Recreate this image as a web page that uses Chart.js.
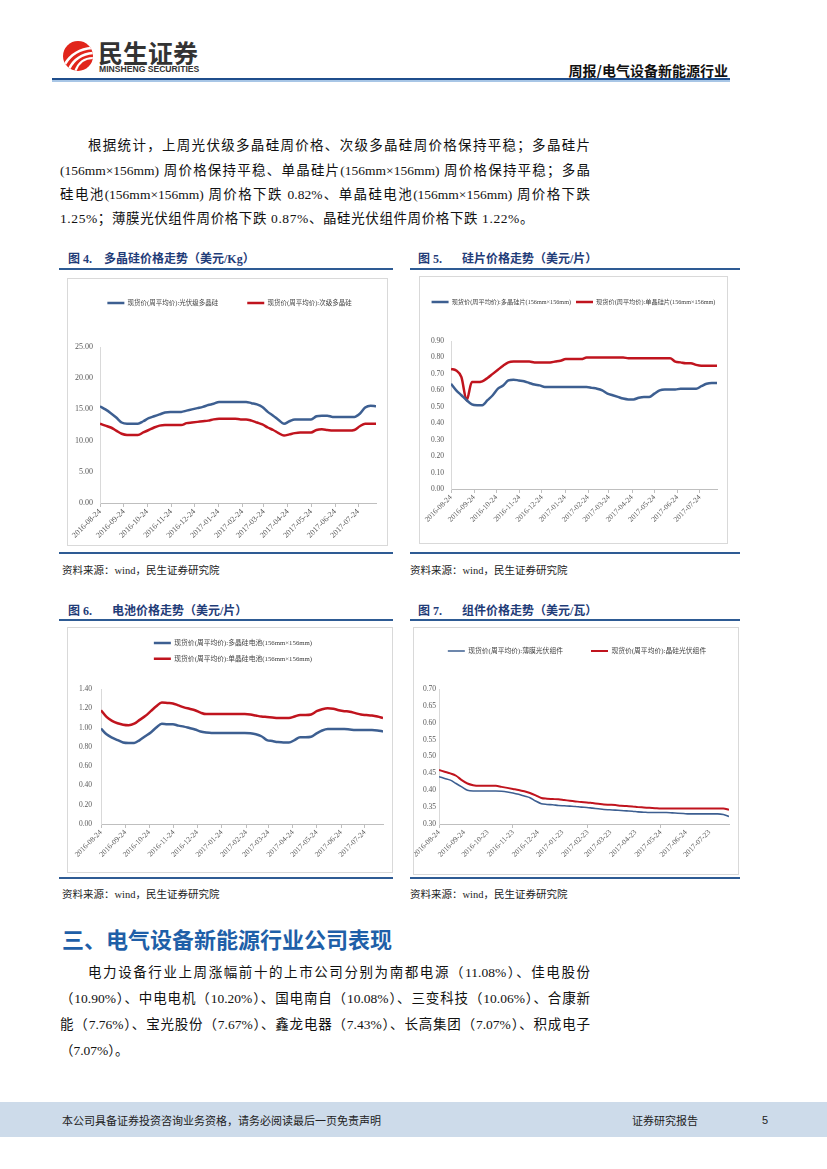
<!DOCTYPE html>
<html><head><meta charset="utf-8">
<script src="https://cdn.jsdelivr.net/npm/chart.js@4.4.1/dist/chart.umd.min.js"></script>
<style>
html,body{margin:0;padding:0;background:#fff;}
#page{position:relative;width:827px;height:1169px;overflow:hidden;font-family:'Liberation Serif','Noto Sans CJK SC',serif;color:#111;}
.a{position:absolute;white-space:nowrap;}
.p{font-size:13.5px;line-height:20px;height:20px;}
.j{text-align:justify;text-align-last:justify;text-justify:inter-character;}
.ft{font-family:'Liberation Serif','Noto Sans CJK SC',serif;font-weight:bold;font-size:12px;line-height:14px;color:#1f3c78;}
.rule{position:absolute;height:2px;background:#2e5b94;}
.box{position:absolute;border:1px solid #d9d9d9;box-sizing:border-box;}
.src{font-size:10.5px;line-height:14px;color:#222;}
canvas{position:absolute;}
</style></head>
<body><div id="page">
<svg class="a" style="left:60px;top:38px" width="36" height="36" viewBox="0 0 36 36">
<defs><clipPath id="cc"><circle cx="18" cy="18" r="15"/></clipPath></defs>
<circle cx="18" cy="18" r="15" fill="#e1251b"/>
<g clip-path="url(#cc)" fill="none" stroke="#fff">
<path d="M5 26 C11 16,19 11,32 10" stroke-width="2.6"/>
<path d="M9 31 C14 21,21 16,33 15" stroke-width="2.6"/>
<path d="M15 34 C18 25,24 20,33 20" stroke-width="2.2"/>
</g></svg>
<div class="a" style="left:98px;top:39px;font-family:'Noto Sans CJK SC';font-weight:bold;font-size:25px;line-height:26px;color:#333;">民生证券</div>
<div class="a" style="left:99px;top:65px;font-family:'Liberation Sans';font-weight:bold;font-size:8.6px;line-height:9px;color:#333;">MINSHENG SECURITIES</div>
<div class="a" style="right:99px;top:62px;font-family:'Noto Sans CJK SC';font-weight:bold;font-size:14px;line-height:16px;color:#111;">周报/电气设备新能源行业</div>
<div class="a" style="left:52px;top:78px;width:678px;height:2px;background:#1f4e8c;"></div>
<div class="a" style="left:52px;top:80px;width:678px;height:1.5px;background:#a8c6e6;"></div>

<div class="a p j" style="left:88px;top:136px;width:502px;">根据统计，上周光伏级多晶硅周价格、次级多晶硅周价格保持平稳；多晶硅片</div>
<div class="a p j" style="left:60px;top:161px;width:530px;">(156mm×156mm) 周价格保持平稳、单晶硅片(156mm×156mm) 周价格保持平稳；多晶</div>
<div class="a p j" style="left:60px;top:185px;width:530px;">硅电池(156mm×156mm) 周价格下跌 0.82%、单晶硅电池(156mm×156mm) 周价格下跌</div>
<div class="a p" style="left:60px;top:209px;letter-spacing:0.6px;">1.25%；薄膜光伏组件周价格下跌 0.87%、晶硅光伏组件周价格下跌 1.22%。</div>

<div class="a ft" style="left:68px;top:252px;">图 4.</div>
<div class="a ft" style="left:104px;top:252px;">多晶硅价格走势（美元/Kg）</div>
<div class="a ft" style="left:418px;top:252px;">图 5.</div>
<div class="a ft" style="left:462px;top:252px;">硅片价格走势（美元/片）</div>
<div class="rule" style="left:59px;top:268px;width:334px;"></div>
<div class="rule" style="left:410px;top:268px;width:330px;"></div>

<div class="box" style="left:67px;top:278px;width:321px;height:268px;"></div>
<div class="box" style="left:419px;top:276px;width:309px;height:268px;"></div>
<canvas id="c4" width="319" height="266" style="left:68px;top:279px;"></canvas>
<canvas id="c5" width="307" height="266" style="left:420px;top:277px;"></canvas>
<div class="rule" style="left:59px;top:552px;width:334px;"></div>
<div class="rule" style="left:410px;top:552px;width:330px;"></div>
<div class="a src" style="left:62px;top:564px;">资料来源：wind，民生证券研究院</div>
<div class="a src" style="left:410px;top:564px;">资料来源：wind，民生证券研究院</div>

<div class="a ft" style="left:68px;top:604px;">图 6.</div>
<div class="a ft" style="left:112px;top:604px;">电池价格走势（美元/片）</div>
<div class="a ft" style="left:418px;top:604px;">图 7.</div>
<div class="a ft" style="left:462px;top:604px;">组件价格走势（美元/瓦）</div>
<div class="rule" style="left:59px;top:619px;width:334px;"></div>
<div class="rule" style="left:410px;top:619px;width:330px;"></div>

<div class="box" style="left:67px;top:627px;width:326px;height:246px;"></div>
<div class="box" style="left:413px;top:627px;width:326px;height:248px;"></div>
<canvas id="c6" width="324" height="244" style="left:68px;top:628px;"></canvas>
<canvas id="c7" width="324" height="246" style="left:414px;top:628px;"></canvas>
<div class="rule" style="left:59px;top:877px;width:334px;"></div>
<div class="rule" style="left:410px;top:877px;width:330px;"></div>
<div class="a src" style="left:62px;top:888px;">资料来源：wind，民生证券研究院</div>
<div class="a src" style="left:410px;top:888px;">资料来源：wind，民生证券研究院</div>

<div class="a" style="left:62px;top:924px;font-family:'Noto Sans CJK SC';font-weight:bold;font-size:22px;line-height:28px;color:#1f5fa8;">三、电气设备新能源行业公司表现</div>

<div class="a p j" style="left:88px;top:963px;width:502px;">电力设备行业上周涨幅前十的上市公司分别为南都电源（11.08%）、佳电股份</div>
<div class="a p j" style="left:60px;top:989px;width:530px;">（10.90%）、中电电机（10.20%）、国电南自（10.08%）、三变科技（10.06%）、合康新</div>
<div class="a p j" style="left:60px;top:1015px;width:530px;">能（7.76%）、宝光股份（7.67%）、鑫龙电器（7.43%）、长高集团（7.07%）、积成电子</div>
<div class="a p" style="left:60px;top:1041px;">（7.07%）。</div>

<div class="a" style="left:0;top:1102px;width:827px;height:35px;background:#cddbea;"></div>
<div class="a" style="left:62px;top:1112px;font-family:'Noto Sans CJK SC';font-size:11px;line-height:16px;color:#222;">本公司具备证券投资咨询业务资格，请务必阅读最后一页免责声明</div>
<div class="a" style="left:632px;top:1112px;font-family:'Noto Sans CJK SC';font-size:11px;line-height:16px;color:#222;">证券研究报告</div>
<div class="a" style="left:762px;top:1112px;font-family:'Liberation Sans';font-size:11px;line-height:16px;color:#222;">5</div>
</div>
<script>
// ---- data ----
const weekDates = ['2016-08-24','2016-08-31','2016-09-07','2016-09-14','2016-09-21','2016-09-28','2016-10-05','2016-10-12','2016-10-19','2016-10-26',
'2016-11-02','2016-11-09','2016-11-16','2016-11-23','2016-11-30','2016-12-07','2016-12-14','2016-12-21','2016-12-28','2017-01-04',
'2017-01-11','2017-01-18','2017-01-25','2017-02-01','2017-02-08','2017-02-15','2017-02-22','2017-03-01','2017-03-08','2017-03-15',
'2017-03-22','2017-03-29','2017-04-05','2017-04-12','2017-04-19','2017-04-26','2017-05-03','2017-05-10','2017-05-17','2017-05-24',
'2017-05-31','2017-06-07','2017-06-14','2017-06-21','2017-06-28','2017-07-05','2017-07-12','2017-07-19','2017-07-26','2017-08-02',
'2017-08-09','2017-08-16'];
const tickLabelsA = ['2016-08-24','2016-09-24','2016-10-24','2016-11-24','2016-12-24','2017-01-24','2017-02-24','2017-03-24','2017-04-24','2017-05-24','2017-06-24','2017-07-24'];
const tickLabelsB = ['2016-08-24','2016-09-24','2016-10-23','2016-11-23','2016-12-24','2017-01-23','2017-02-23','2017-03-23','2017-04-23','2017-05-24','2017-06-24','2017-07-23'];

const polyLabels = ['现货价(周平均价):光伏级多晶硅','现货价(周平均价):次级多晶硅'];
const polySolar = [15.5,15.0,14.4,13.7,12.9,12.7,12.7,12.7,13.1,13.6,13.9,14.2,14.5,14.6,14.6,14.6,14.8,15.0,15.2,15.4,15.7,15.9,16.2,16.2,16.2,16.2,16.2,16.2,16.0,15.8,15.4,14.6,14.0,13.3,12.7,13.1,13.4,13.4,13.4,13.4,13.9,14.0,14.0,13.8,13.8,13.8,13.8,13.8,14.3,15.3,15.6,15.5];
const polySecond = [12.7,12.4,12.1,11.6,11.1,10.9,10.9,10.9,11.3,11.7,12.1,12.4,12.5,12.5,12.5,12.5,12.8,12.9,13.0,13.1,13.2,13.4,13.5,13.5,13.5,13.5,13.4,13.4,13.2,12.9,12.6,12.1,11.7,11.2,10.8,11.0,11.2,11.3,11.3,11.3,11.7,11.8,11.7,11.6,11.6,11.6,11.6,11.7,12.3,12.7,12.7,12.7];

const waferLabels = ['现货价(周平均价):多晶硅片(156mm×156mm)','现货价(周平均价):单晶硅片(156mm×156mm)'];
const waferMulti = [0.64,0.60,0.57,0.54,0.515,0.51,0.51,0.54,0.57,0.61,0.63,0.66,0.665,0.66,0.655,0.645,0.635,0.63,0.62,0.62,0.62,0.62,0.62,0.62,0.62,0.62,0.62,0.615,0.61,0.60,0.58,0.57,0.56,0.55,0.545,0.545,0.555,0.56,0.56,0.58,0.60,0.605,0.605,0.605,0.61,0.61,0.61,0.61,0.625,0.64,0.645,0.645];
const waferMono = [0.73,0.72,0.68,0.54,0.65,0.65,0.655,0.675,0.70,0.725,0.75,0.77,0.775,0.775,0.775,0.775,0.77,0.77,0.77,0.77,0.775,0.78,0.79,0.79,0.79,0.79,0.80,0.80,0.80,0.80,0.80,0.80,0.80,0.80,0.795,0.795,0.795,0.795,0.795,0.795,0.795,0.795,0.795,0.775,0.77,0.765,0.765,0.755,0.75,0.75,0.75,0.75];

const cellLabels = ['现货价(周平均价):多晶硅电池(156mm×156mm)','现货价(周平均价):单晶硅电池(156mm×156mm)'];
const cellMulti = [0.99,0.93,0.895,0.87,0.845,0.84,0.84,0.87,0.91,0.95,1.00,1.04,1.035,1.035,1.02,1.01,0.995,0.98,0.96,0.95,0.945,0.945,0.945,0.945,0.945,0.945,0.945,0.94,0.93,0.91,0.87,0.86,0.85,0.845,0.845,0.87,0.90,0.90,0.905,0.94,0.97,0.985,0.985,0.985,0.985,0.98,0.975,0.975,0.975,0.975,0.97,0.96];
const cellMono = [1.18,1.11,1.07,1.045,1.03,1.025,1.04,1.08,1.12,1.17,1.22,1.26,1.255,1.25,1.23,1.21,1.195,1.18,1.155,1.14,1.14,1.14,1.14,1.14,1.14,1.14,1.14,1.135,1.125,1.115,1.11,1.105,1.10,1.10,1.10,1.115,1.13,1.13,1.135,1.17,1.19,1.20,1.195,1.18,1.17,1.165,1.15,1.135,1.13,1.125,1.115,1.10];

const moduleLabels = ['现货价(周平均价):薄膜光伏组件','现货价(周平均价):晶硅光伏组件'];
const moduleThin = [0.44,0.435,0.43,0.42,0.41,0.40,0.398,0.398,0.398,0.398,0.398,0.397,0.395,0.392,0.388,0.383,0.378,0.368,0.36,0.358,0.357,0.355,0.354,0.353,0.352,0.35,0.349,0.347,0.345,0.343,0.342,0.341,0.34,0.339,0.338,0.336,0.335,0.334,0.334,0.334,0.334,0.333,0.332,0.331,0.33,0.33,0.33,0.33,0.33,0.33,0.328,0.322];
const moduleCrystal = [0.46,0.455,0.45,0.443,0.43,0.42,0.415,0.413,0.413,0.413,0.413,0.41,0.407,0.404,0.401,0.397,0.392,0.385,0.377,0.375,0.374,0.373,0.371,0.369,0.367,0.365,0.364,0.362,0.36,0.358,0.357,0.356,0.354,0.353,0.352,0.35,0.349,0.348,0.347,0.346,0.346,0.346,0.346,0.346,0.346,0.346,0.346,0.346,0.346,0.346,0.346,0.342];

const BLUE = '#3d5f91', RED = '#c0141e';

function dayOf(s){ return (Date.parse(s) - Date.parse(weekDates[0])) / 86400000; }

function makeChart(id, g, labels, seriesA, seriesB, y, ticksLbl, tickEvery){
  const fs = g.lf;
  const place = {
    id: 'place',
    beforeInit(chart){
      const lg = chart.legend; const fit = lg.fit;
      lg.fit = function(){ fit.call(this); this.height = g.plotTop; };
    },
    afterLayout(chart){
      const lg = chart.legend;
      lg.top = g.rowY - g.lp - fs / 2; lg.bottom = lg.top + lg.height;
    }
  };
  const ds = [[seriesA, BLUE], [seriesB, RED]].map((p, k) => ({
    label: labels[k],
    data: weekDates.map((d, i) => ({ x: dayOf(d), y: p[0][i] })),
    borderColor: p[1], backgroundColor: p[1], borderWidth: g.lw[k],
    pointRadius: 0, pointHoverRadius: 0, pointStyle: 'line',
    pointBorderColor: p[1], pointBorderWidth: g.lw[k],
    cubicInterpolationMode: 'monotone', fill: false
  }));
  return new Chart(document.getElementById(id), {
    type: 'line',
    data: { datasets: ds },
    plugins: [place],
    options: {
      responsive: false, animation: false, events: [],
      layout: { padding: { left: g.padL, right: 0, top: 0, bottom: 0 } },
      plugins: {
        tooltip: { enabled: false },
        legend: { display: true, position: 'top', align: 'center',
          labels: { usePointStyle: true, pointStyle: 'line', pointStyleWidth: 17, padding: g.lp,
            color: '#404040', font: { family: "'Liberation Serif','Noto Sans CJK SC'", size: fs } } }
      },
      scales: {
        x: { type: 'linear', min: 0, max: dayOf(weekDates[weekDates.length - 1]),
          afterBuildTicks(ax){ ax.ticks = ticksLbl.map(s => ({ value: dayOf(s) })); },
          afterFit(ax){ ax.height = g.xH; },
          ticks: { autoSkip: false, maxRotation: 45, minRotation: 45, padding: 0, color: '#595959',
            font: { family: "'Liberation Serif'", size: g.tf }, callback: (v, i) => ticksLbl[i] },
          grid: { drawOnChartArea: false, drawTicks: true, tickLength: 4,
            color: c => (c.index % tickEvery === 0 ? '#bfbfbf' : 'rgba(0,0,0,0)') },
          border: { display: true, color: '#bfbfbf' } },
        y: { min: y[0], max: y[1],
          afterFit(ax){ ax.width = g.yW; },
          ticks: { stepSize: y[2], padding: g.yp, color: '#595959',
            font: { family: "'Liberation Serif'", size: g.tf }, callback: v => v.toFixed(2) },
          grid: { display: false, drawTicks: false },
          border: { display: true, color: '#d9d9d9' } },
        spacer: { type: 'linear', axis: 'y', position: 'right',
          afterFit(ax){ ax.width = g.rW; },
          ticks: { display: false }, grid: { display: false, drawTicks: false }, border: { display: false } }
      }
    }
  });
}

makeChart('c4', { padL: 4, yW: 28, rW: 11, xH: 42, plotTop: 68, rowY: 24, lp: 29, lf: 6.5, tf: 8, yp: 7, lw: [2.5, 2.5] },
  polyLabels, polySolar, polySecond, [0, 25, 5], tickLabelsA, 1);
makeChart('c5', { padL: 0, yW: 31, rW: 10, xH: 54, plotTop: 64, rowY: 25, lp: 5, lf: 6.2, tf: 7.5, yp: 7, lw: [2.5, 2.5] },
  waferLabels, waferMulti, waferMono, [0, 0.9, 0.1], tickLabelsA, 1);
makeChart('c6', { padL: 6, yW: 27, rW: 9, xH: 48, plotTop: 61, rowY: 15, lp: 9, lf: 6.8, tf: 7.5, yp: 9, lw: [2.5, 2.5] },
  cellLabels, cellMulti, cellMono, [0, 1.4, 0.2], tickLabelsA, 1);
makeChart('c7', { padL: 2, yW: 23, rW: 9, xH: 50, plotTop: 61, rowY: 23, lp: 28, lf: 6.8, tf: 7.5, yp: 3, lw: [1.6, 2] },
  moduleLabels, moduleThin, moduleCrystal, [0.3, 0.7, 0.05], tickLabelsB, 3);
</script>
</body></html>
